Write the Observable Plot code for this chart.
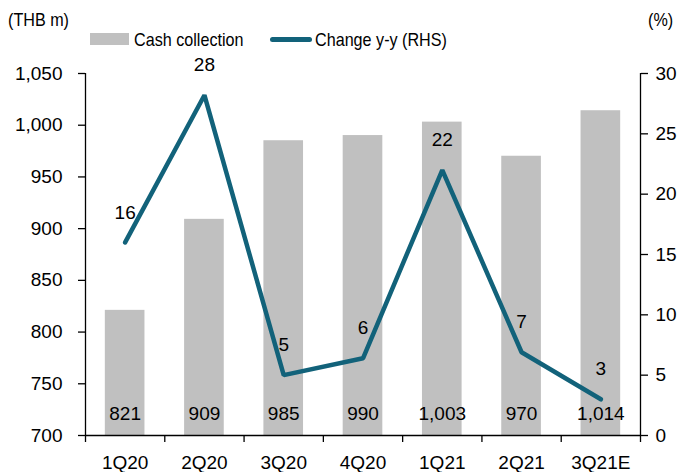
<!DOCTYPE html>
<html><head><meta charset="utf-8">
<script src="https://cdn.jsdelivr.net/npm/d3@7"></script>
<script src="https://cdn.jsdelivr.net/npm/@observablehq/plot@0.6"></script>
<style>
body{margin:0;background:#fff;font-family:"Liberation Sans",Arial,sans-serif;}
#wrap{position:relative;width:685px;height:472px;}
.lbl{position:absolute;font-size:19px;line-height:20px;color:#000;white-space:nowrap;transform:scaleX(0.85);transform-origin:left center;}
.sw{position:absolute;}
</style></head><body><div id="wrap"></div>
<script>
const quarters = ["1Q20","2Q20","3Q20","4Q20","1Q21","2Q21","3Q21E"];
const cashCollection = [821, 909, 985, 990, 1003, 970, 1014];
const changeYY = [16, 28.2, 5, 6.4, 22, 6.9, 3];
const leftTicks = [700, 750, 800, 850, 900, 950, 1000, 1050];
const rightTicks = [0, 5, 10, 15, 20, 25, 30];

const barColor = "#c0c0c0";
const lineColor = "#12627a";

const rows = quarters.map((q, i) => ({q, i, cash: cashCollection[i], chg: changeYY[i]}));
const toLeft = d3.scaleLinear([0, 30], [700, 1050]);
const fmt = d3.format(",");

const chart = Plot.plot({
  width: 685, height: 472,
  marginLeft: 85, marginRight: 45, marginTop: 73, marginBottom: 37,
  style: {fontFamily: "'Liberation Sans', Arial, sans-serif", fontSize: "19px", color: "#000", background: "#fff"},
  x: {domain: [0, 7], axis: null},
  y: {domain: [700, 1050], axis: null},
  marks: [
    Plot.rectY(rows, {x1: d => d.i + 0.25, x2: d => d.i + 0.75, y1: 700, y2: "cash", fill: barColor}),
    Plot.text(rows, {x: d => d.i + 0.5, y: 700, text: d => fmt(d.cash), dy: -22, fontSize: 19, fill: "#000"}),
    Plot.line(rows, {x: d => d.i + 0.5, y: d => toLeft(d.chg), stroke: lineColor, strokeWidth: 4.5, strokeLinejoin: "miter", strokeLinecap: "round"}),
    Plot.text(rows, {x: d => d.i + 0.5, y: d => toLeft(d.chg), text: d => Math.round(d.chg), dy: -30, fontSize: 19, fill: "#000"}),
    Plot.ruleX([0], {stroke: "#000", strokeWidth: 1.3}),
    Plot.ruleX([7], {stroke: "#000", strokeWidth: 1.3}),
    Plot.ruleY([700], {stroke: "#000", strokeWidth: 1.3}),
    Plot.axisY(leftTicks, {anchor: "left", label: null, tickSize: 7, tickPadding: 16, tickFormat: fmt, stroke: "#000", strokeWidth: 1.3, fontSize: 19}),
    Plot.axisY(rightTicks.map(toLeft), {anchor: "right", label: null, tickSize: 7, tickPadding: 8, tickFormat: d => Math.round(toLeft.invert(d)), stroke: "#000", strokeWidth: 1.3, fontSize: 19}),
    Plot.axisX(d3.range(0, 8), {anchor: "bottom", label: null, tickSize: 7, tickFormat: () => "", stroke: "#000", strokeWidth: 1.3}),
    Plot.axisX(rows.map(d => d.i + 0.5), {anchor: "bottom", label: null, tickSize: 0, tickPadding: 20, tickFormat: d => quarters[Math.floor(d)], fontSize: 19})
  ]
});

const wrap = document.getElementById("wrap");
wrap.appendChild(chart);
function add(html){ wrap.insertAdjacentHTML("beforeend", html); }
add(`<div class="lbl" style="left:8px;top:10px;">(THB m)</div>`);
add(`<div class="lbl" style="left:648px;top:10px;">(%)</div>`);
add(`<div class="sw" style="left:90px;top:33px;width:39px;height:12px;background:${barColor};"></div>`);
add(`<div class="lbl" style="left:134px;top:30px;">Cash collection</div>`);
add(`<div class="sw" style="left:270px;top:37px;width:42px;height:5px;border-radius:2.5px;background:${lineColor};"></div>`);
add(`<div class="lbl" style="left:315px;top:30px;">Change y-y (RHS)</div>`);
</script></body></html>
